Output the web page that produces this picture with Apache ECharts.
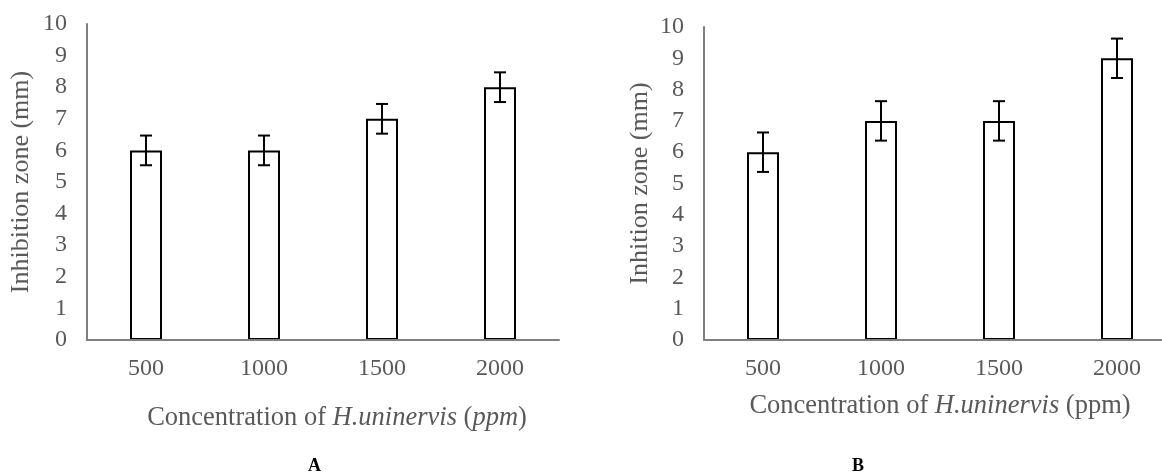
<!DOCTYPE html>
<html>
<head>
<meta charset="utf-8">
<script src="https://cdn.jsdelivr.net/npm/echarts@6/dist/echarts.min.js"></script>
<style>
html,body{margin:0;padding:0;background:#fff;}
#c{width:1162px;height:474px;}
</style>
</head>
<body>
<div id="c"></div>
<script>
var categories = ['500', '1000', '1500', '2000'];
var valuesA = [6, 6, 7, 8];
var errorsA = [0.47, 0.47, 0.47, 0.47];
var valuesB = [6, 7, 7, 9];
var errorsB = [0.63, 0.63, 0.63, 0.63];
var yTicks = [0, 10, 1];

var FONT = "'Liberation Serif','Times New Roman',serif";
var GREY = '#595959';

function errData(vals, errs) {
  return vals.map(function (v, i) { return [i, v - errs[i], v + errs[i]]; });
}

function renderErr(params, api) {
  var x = api.value(0);
  var lo = api.coord([x, api.value(1)]);
  var hi = api.coord([x, api.value(2)]);
  var hw = 6;
  var st = { stroke: '#000', lineWidth: 2 };
  return {
    type: 'group',
    children: [
      { type: 'line', shape: { x1: hi[0], y1: hi[1], x2: lo[0], y2: lo[1] }, style: st },
      { type: 'line', shape: { x1: hi[0] - hw, y1: hi[1], x2: hi[0] + hw, y2: hi[1] }, style: st },
      { type: 'line', shape: { x1: lo[0] - hw, y1: lo[1], x2: lo[0] + hw, y2: lo[1] }, style: st }
    ]
  };
}

function xAxis(idx, nameText, gap, pad) {
  return {
    type: 'category', gridIndex: idx, data: categories, boundaryGap: true, z: 10,
    axisLine: { show: true, lineStyle: { color: '#7f7f7f', width: 2 } },
    axisTick: { show: false },
    axisLabel: { color: GREY, fontFamily: FONT, fontSize: 24, margin: 17 },
    name: nameText, nameLocation: 'middle', nameGap: gap,
    nameTextStyle: {
      color: GREY, fontFamily: FONT, fontSize: 26.5, padding: pad,
      rich: { i: { fontStyle: 'italic', color: GREY, fontFamily: FONT, fontSize: 26.5 } }
    }
  };
}

function yAxis(idx, nameText, gap) {
  return {
    type: 'value', gridIndex: idx, min: yTicks[0], max: yTicks[1], interval: yTicks[2],
    axisLine: { show: true, lineStyle: { color: '#7f7f7f', width: 2 } },
    axisTick: { show: false },
    splitLine: { show: false },
    axisLabel: { color: GREY, fontFamily: FONT, fontSize: 24, margin: 20 },
    name: nameText, nameLocation: 'middle', nameGap: gap, nameRotate: 90,
    nameTextStyle: { color: GREY, fontFamily: FONT, fontSize: 26 }
  };
}

var barStyle = { color: '#fff', borderColor: '#000', borderWidth: 2 };

var option = {
  animation: false,
  backgroundColor: '#fff',
  grid: [
    { left: 87, top: 24, width: 472, height: 316, outerBoundsMode: 'none', containLabel: false },
    { left: 704, top: 27, width: 472, height: 313, outerBoundsMode: 'none', containLabel: false }
  ],
  xAxis: [
    xAxis(0, 'Concentration of {i|H.uninervis} ({i|ppm})', 65, [0, 0, 0, 28]),
    xAxis(1, 'Concentration of {i|H.uninervis} (ppm)', 53, [0, 0, 0, 0])
  ],
  yAxis: [
    yAxis(0, 'Inhibition zone (mm)', 53),
    yAxis(1, 'Inhition zone (mm)', 51)
  ],
  graphic: [
    { type: 'text', left: 308, top: 457, style: { text: 'A', fill: '#000', font: 'bold 18px ' + FONT } },
    { type: 'text', left: 852, top: 457, style: { text: 'B', fill: '#000', font: 'bold 18px ' + FONT } }
  ],
  series: [
    { type: 'bar', xAxisIndex: 0, yAxisIndex: 0, data: valuesA, barWidth: 32, itemStyle: barStyle },
    { type: 'custom', xAxisIndex: 0, yAxisIndex: 0, data: errData(valuesA, errorsA), renderItem: renderErr, encode: { x: 0, y: [1, 2] }, z: 5 },
    { type: 'bar', xAxisIndex: 1, yAxisIndex: 1, data: valuesB, barWidth: 32, itemStyle: barStyle },
    { type: 'custom', xAxisIndex: 1, yAxisIndex: 1, data: errData(valuesB, errorsB), renderItem: renderErr, encode: { x: 0, y: [1, 2] }, z: 5 }
  ]
};

var chart = echarts.init(document.getElementById('c'), null, { renderer: 'canvas' });
chart.setOption(option);
</script>
</body>
</html>
